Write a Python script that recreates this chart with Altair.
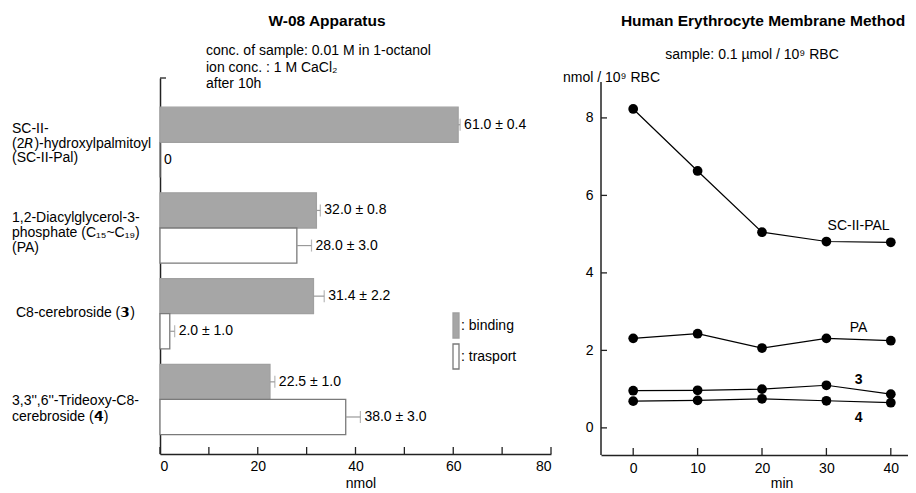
import altair as alt
import pandas as pd

# ---------------- data: left panel (W-08 apparatus) ----------------
compounds = ["SC-II-Pal", "PA", "3", "4"]
compound_labels = [
    "SC-II-\n(2\U0001D619)-hydroxylpalmitoyl\n(SC-II-Pal)",
    "1,2-Diacylglycerol-3-\nphosphate (C\u2081\u2085~C\u2081\u2089)\n(PA)",
    "C8-cerebroside (\U0001D7EF)",
    "3,3'',6''-Trideoxy-C8-\ncerebroside (\U0001D7F0)",
]
series_names = ["binding", "trasport"]
binding = [61.0, 32.0, 31.4, 22.5]
binding_err = [0.4, 0.8, 2.2, 1.0]
transport = [0.0, 28.0, 2.0, 38.0]
transport_err = [0.0, 3.0, 1.0, 3.0]
nmol_ticks = [0, 10, 20, 30, 40, 50, 60, 70, 80]
nmol_labels = [0, 20, 40, 60, 80]

# ---------------- data: right panel (erythrocyte membrane) ----------------
minutes = [0, 10, 20, 30, 40]
sc_pal = [8.23, 6.63, 5.05, 4.81, 4.79]
pa = [2.31, 2.43, 2.06, 2.31, 2.25]
cmp3 = [0.96, 0.97, 1.00, 1.10, 0.87]
cmp4 = [0.69, 0.71, 0.75, 0.70, 0.65]
line_names = ["SC-II-PAL", "PA", "3", "4"]
line_label_x = [35, 35, 35, 35]
line_label_y = [5.2, 2.58, 1.24, 0.26]
rbc_ticks = [0, 2, 4, 6, 8]

FONT = "Liberation Sans"
AXC = "#222222"

# ---------- tables ----------
rows = []
for c, bv, be, tv, te in zip(compounds, binding, binding_err, transport, transport_err):
    for s, v, e in ((series_names[0], bv, be), (series_names[1], tv, te)):
        rows.append({
            "compound": c, "series": s, "value": v, "err": e, "end": v + e,
            "label": (f"{v:.1f} \u00b1 {e:.1f}" if e > 0 else f"{v:.0f}"),
        })
bars_df = pd.DataFrame(rows)
cat_df = pd.DataFrame({"compound": compounds, "label": compound_labels})
xt_df = pd.DataFrame({"value": nmol_ticks})
one = pd.DataFrame({"k": [0]})

W1, H1 = 391, 376
W2, H2 = 307, 377

y_scale = alt.Scale(domain=compounds, paddingInner=0.18, paddingOuter=0.2835, align=0.6)
y_enc = alt.Y("compound:N", sort=compounds, scale=y_scale,
              axis=alt.Axis(labels=False, ticks=False, title=None, domainColor=AXC, domainWidth=1.5))
yoff = alt.YOffset("series:N", sort=series_names,
                   scale=alt.Scale(domain=series_names, paddingInner=0, paddingOuter=0))
x_scale = alt.Scale(domain=[0, 80], nice=False)
x_enc = alt.X("value:Q", scale=x_scale,
              axis=alt.Axis(values=nmol_labels, ticks=False, labelPadding=5, title=None, grid=False,
                            domainColor=AXC, domainWidth=1.5, labelFontSize=14, labelColor="black"))

bars = alt.Chart(bars_df).mark_bar(strokeWidth=1.3).encode(
    x=x_enc, y=y_enc, yOffset=yoff,
    fill=alt.Fill("series:N", sort=series_names,
                  scale=alt.Scale(domain=series_names, range=["#a6a6a6", "#ffffff"]),
                  legend=alt.Legend(orient="none", legendX=273, legendY=234, title=None,
                                    symbolType="M0.52,-1H1V1H0.52Z", symbolSize=625,
                                    symbolStrokeColor="#8a8a8a", symbolStrokeWidth=1.3,
                                    labelExpr="': ' + datum.label", labelFontSize=14,
                                    labelColor="black", labelOffset=1, rowPadding=0, padding=0)),
    stroke=alt.Stroke("series:N", sort=series_names,
                      scale=alt.Scale(domain=series_names, range=["#a0a0a0", "#7a7a7a"]),
                      legend=None),
)

err_df_filter = alt.datum.err > 0
whisk = alt.Chart(bars_df).transform_filter(err_df_filter).mark_rule(color="#9a9a9a", strokeWidth=1.2).encode(
    x="value:Q", x2="end:Q", y=y_enc, yOffset=yoff)
caps = alt.Chart(bars_df).transform_filter(err_df_filter).mark_tick(
    color="#9a9a9a", thickness=1.2, size=12, orient="vertical").encode(
    x=alt.X("end:Q"), y=y_enc, yOffset=yoff)
vals = alt.Chart(bars_df).mark_text(align="left", baseline="middle", dx=4, fontSize=14, color="black").encode(
    x=alt.X("end:Q"), y=y_enc, yOffset=yoff, text="label:N")

# first-line offsets from the band centre (Vega puts the first line at y)
cat_dy = {"SC-II-Pal": -13, "PA": -10.5, "3": -1, "4": 1.5}
cat_lh = {"SC-II-Pal": 14.5, "PA": 15, "3": 15, "4": 16}
cat_x = {"SC-II-Pal": -148, "PA": -148, "3": -144, "4": -148}
cat_layers = []
for c in compounds:
    cat_layers.append(
        alt.Chart(cat_df).transform_filter(alt.datum.compound == c).mark_text(
            align="left", baseline="middle", lineBreak="\n", lineHeight=cat_lh[c], fontSize=14,
            color="black", dy=cat_dy[c]).encode(
            x=alt.value(cat_x[c]), y=y_enc, text="label:N"))

xticks = alt.Chart(xt_df).mark_rule(color=AXC, strokeWidth=1.3).encode(
    x="value:Q", y=alt.value(H1), y2=alt.value(H1 - 7))
top_tick = alt.Chart(one).mark_rule(color=AXC, strokeWidth=1.3).encode(
    x=alt.value(0), x2=alt.value(6), y=alt.value(0))

title1 = alt.Chart(one).mark_text(fontSize=15.5, fontWeight="bold", color="black", baseline="middle").encode(
    x=alt.value(167), y=alt.value(-57), text=alt.value("W-08 Apparatus"))
note1 = alt.Chart(one).mark_text(fontSize=14, color="black", align="left", baseline="middle",
                                 lineBreak="\n", lineHeight=16.5).encode(
    x=alt.value(46), y=alt.value(-27),
    text=alt.value("conc. of sample: 0.01 M in 1-octanol\nion conc. : 1 M CaCl\u2082\nafter 10h"))
xtitle1 = alt.Chart(one).mark_text(fontSize=14, color="black", baseline="middle").encode(
    x=alt.value(201), y=alt.value(H1 + 30), text=alt.value("nmol"))

left = alt.layer(bars, whisk, caps, vals, *cat_layers, xticks, top_tick, title1, note1, xtitle1).properties(
    width=W1, height=H1)

# ---------- right panel ----------
line_rows = []
for name, ys in zip(line_names, [sc_pal, pa, cmp3, cmp4]):
    for m, v in zip(minutes, ys):
        line_rows.append({"series": name, "minute": m, "amount": v})
line_df = pd.DataFrame(line_rows)
ann_df = pd.DataFrame({"series": line_names, "minute": line_label_x, "amount": line_label_y})
mt_df = pd.DataFrame({"minute": minutes})
yt_df = pd.DataFrame({"amount": rbc_ticks})

x2_enc = alt.X("minute:Q", scale=alt.Scale(domain=[-5, 42.67], nice=False, zero=False),
               axis=alt.Axis(values=minutes, ticks=False, labelPadding=6, title=None, grid=False,
                             domainColor=AXC, domainWidth=1.5, labelFontSize=14, labelColor="black"))
y2_enc = alt.Y("amount:Q", scale=alt.Scale(domain=[-0.70, 9.03], nice=False, zero=False),
               axis=alt.Axis(values=rbc_ticks, ticks=False, domain=False, labelPadding=8, title=None,
                             grid=False, labelFontSize=14, labelColor="black"))

lines = alt.Chart(line_df).mark_line(color="black", strokeWidth=1.2).encode(
    x=x2_enc, y=y2_enc, detail="series:N")
pts = alt.Chart(line_df).mark_point(filled=True, color="black", size=95, opacity=1, shape="circle").encode(
    x=x2_enc, y=y2_enc, detail="series:N")
ann_norm = alt.Chart(ann_df).transform_filter(
    (alt.datum.series == "SC-II-PAL") | (alt.datum.series == "PA")).mark_text(
    fontSize=14, color="black").encode(x="minute:Q", y="amount:Q", text="series:N")
ann_bold = alt.Chart(ann_df).transform_filter(
    (alt.datum.series == "3") | (alt.datum.series == "4")).mark_text(
    fontSize=14, fontWeight="bold", color="black").encode(x="minute:Q", y="amount:Q", text="series:N")

x2ticks = alt.Chart(mt_df).mark_rule(color=AXC, strokeWidth=1.3).encode(
    x="minute:Q", y=alt.value(H2), y2=alt.value(H2 - 7))
y2ticks = alt.Chart(yt_df).mark_rule(color=AXC, strokeWidth=1.3).encode(
    y="amount:Q", x=alt.value(0), x2=alt.value(6))
y2dom = alt.Chart(one).mark_rule(color=AXC, strokeWidth=1.5).encode(
    x=alt.value(0), y=alt.value(4), y2=alt.value(H2))

title2 = alt.Chart(one).mark_text(fontSize=15.5, fontWeight="bold", color="black", baseline="middle").encode(
    x=alt.value(162), y=alt.value(-57), text=alt.value("Human Erythrocyte Membrane Method"))
sub2 = alt.Chart(one).mark_text(fontSize=14, color="black", baseline="middle").encode(
    x=alt.value(151), y=alt.value(-23), text=alt.value("sample: 0.1 \u00b5mol / 10\u2079 RBC"))
ytitle2 = alt.Chart(one).mark_text(fontSize=14, color="black", align="left", baseline="middle").encode(
    x=alt.value(-38), y=alt.value(0), text=alt.value("nmol / 10\u2079 RBC"))
xtitle2 = alt.Chart(one).mark_text(fontSize=14, color="black", baseline="middle").encode(
    x=alt.value(181), y=alt.value(H2 + 29), text=alt.value("min"))

right = alt.layer(lines, pts, ann_norm, ann_bold, x2ticks, y2ticks, y2dom, title2, sub2, ytitle2, xtitle2).properties(
    width=W2, height=H2)

chart = alt.hconcat(left, right, spacing=50, bounds="flush").properties(
    padding={"left": 4, "top": 6, "right": 0, "bottom": 0}
).configure(font=FONT).configure_view(stroke=None)

chart.save("out.html", embed_options={"renderer": "svg", "actions": False})
